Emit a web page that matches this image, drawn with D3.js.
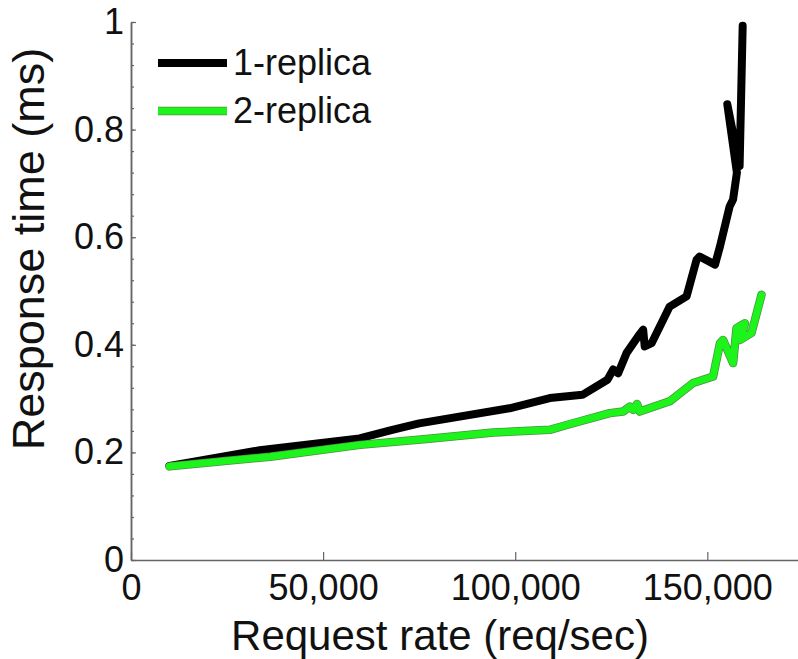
<!DOCTYPE html>
<html>
<head>
<meta charset="utf-8">
<script src="https://cdn.jsdelivr.net/npm/d3@7"></script>
<style>
  body { margin: 0; background: #fff; }
  text { font-family: "Liberation Sans", Arial, Helvetica, sans-serif; fill: #111; }
</style>
</head>
<body>
<div id="chart"></div>
<script>
// Data
var rate1 = [10000, 33500, 59500, 68000, 75000, 98500, 109000, 117500, 124000, 125500, 126800, 129000,
  132000, 133300, 133700, 135500, 140200, 144600, 147200, 148000, 152000, 153300, 155800, 156700,
  157700, 155200, 158400, 159200];
var resp1 = [0.175, 0.204, 0.226, 0.242, 0.254, 0.282, 0.301, 0.307, 0.335, 0.354, 0.347, 0.385,
  0.416, 0.428, 0.397, 0.403, 0.471, 0.490, 0.558, 0.564, 0.549, 0.583, 0.657, 0.670,
  0.720, 0.847, 0.732, 0.993];

var rate2 = [10000, 36200, 59600, 76900, 94300, 109000, 113400, 124600, 128100, 129800, 130700, 131700,
  132400, 140200, 146300, 151500, 153300, 154100, 156700, 157600, 159800, 158500, 161500, 164100];
var resp2 = [0.174, 0.192, 0.214, 0.225, 0.237, 0.242, 0.251, 0.273, 0.276, 0.285, 0.279, 0.290,
  0.276, 0.295, 0.329, 0.341, 0.403, 0.409, 0.366, 0.431, 0.440, 0.409, 0.422, 0.493];

var seriesNames = ["1-replica", "2-replica"];
var xTicks = [0, 50000, 100000, 150000];
var yTicks = [0, 0.2, 0.4, 0.6, 0.8, 1];
var yMinorTicks = d3.range(0, 1.0001, 0.04);

var svgWidth = 798;
var svgHeight = 659;

var margin = { top: 22, right: 0, bottom: 99, left: 131 };
var width = svgWidth - margin.left - margin.right;
var height = svgHeight - margin.top - margin.bottom;

var green = "#1cf41c";
var greenEdge = "#4f8f45";

var svg = d3.select("#chart")
  .append("svg")
  .attr("width", svgWidth)
  .attr("height", svgHeight);

var chartGroup = svg.append("g")
  .attr("transform", `translate(${margin.left}, ${margin.top})`);

// Scales
var xScale = d3.scaleLinear()
  .domain([0, 173600])
  .range([0, width]);

var yScale = d3.scaleLinear()
  .domain([0, 1])
  .range([height, 0]);

// Axes (ticks point inward)
var bottomAxis = d3.axisBottom(xScale)
  .tickValues(xTicks)
  .tickFormat(d3.format(","))
  .tickSizeInner(-8)
  .tickSizeOuter(0)
  .tickPadding(14);

var leftAxis = d3.axisLeft(yScale)
  .tickValues(yTicks)
  .tickFormat(d => d3.format("")(d))
  .tickSizeInner(-5)
  .tickSizeOuter(0)
  .tickPadding(7);

var minorAxis = d3.axisLeft(yScale)
  .tickValues(yMinorTicks)
  .tickFormat("")
  .tickSizeInner(-3)
  .tickSizeOuter(0);

var xAxisG = chartGroup.append("g")
  .attr("transform", `translate(0, ${height})`)
  .call(bottomAxis);

var minorG = chartGroup.append("g").call(minorAxis);
var yAxisG = chartGroup.append("g").call(leftAxis);

[xAxisG, yAxisG, minorG].forEach(function(g) {
  g.select(".domain").attr("stroke", "#666").attr("stroke-width", 1.5);
  g.selectAll(".tick line").attr("stroke", "#666").attr("stroke-width", 1.2);
  g.selectAll(".tick text")
    .attr("font-size", 36)
    .attr("font-family", "Liberation Sans, Arial, sans-serif")
    .attr("fill", "#111");
});

// Lines
var line = d3.line()
  .x(d => xScale(d[0]))
  .y(d => yScale(d[1]));

var data1 = rate1.map((r, i) => [r, resp1[i]]);
var data2 = rate2.map((r, i) => [r, resp2[i]]);

chartGroup.append("path")
  .datum(data1)
  .attr("d", line)
  .attr("fill", "none")
  .attr("stroke", "#000")
  .attr("stroke-width", 8)
  .attr("stroke-linejoin", "round")
  .attr("stroke-linecap", "round");

// green line with a thin darker edge
chartGroup.append("path")
  .datum(data2)
  .attr("d", line)
  .attr("fill", "none")
  .attr("stroke", greenEdge)
  .attr("stroke-width", 8.5)
  .attr("stroke-linejoin", "round")
  .attr("stroke-linecap", "round");

chartGroup.append("path")
  .datum(data2)
  .attr("d", line)
  .attr("fill", "none")
  .attr("stroke", green)
  .attr("stroke-width", 7)
  .attr("stroke-linejoin", "round")
  .attr("stroke-linecap", "round");

// Legend
var legendColors = ["#000", green];
seriesNames.forEach(function(name, i) {
  var ly = 63 + i * 48;
  if (i === 1) {
    svg.append("line")
      .attr("x1", 158).attr("x2", 227)
      .attr("y1", ly).attr("y2", ly)
      .attr("stroke", greenEdge)
      .attr("stroke-width", 8.5);
  }
  svg.append("line")
    .attr("x1", 158).attr("x2", 227)
    .attr("y1", ly).attr("y2", ly)
    .attr("stroke", legendColors[i])
    .attr("stroke-width", i === 0 ? 8 : 7);
  svg.append("text")
    .attr("x", 233)
    .attr("y", ly + 12)
    .attr("font-size", 36)
    .text(name);
});

// Axis labels
svg.append("text")
  .attr("x", 440)
  .attr("y", 650)
  .attr("text-anchor", "middle")
  .attr("font-size", 42)
  .text("Request rate (req/sec)");

svg.append("text")
  .attr("transform", "translate(44, 249) rotate(-90)")
  .attr("text-anchor", "middle")
  .attr("font-size", 45)
  .text("Response time (ms)");
</script>
</body>
</html>
